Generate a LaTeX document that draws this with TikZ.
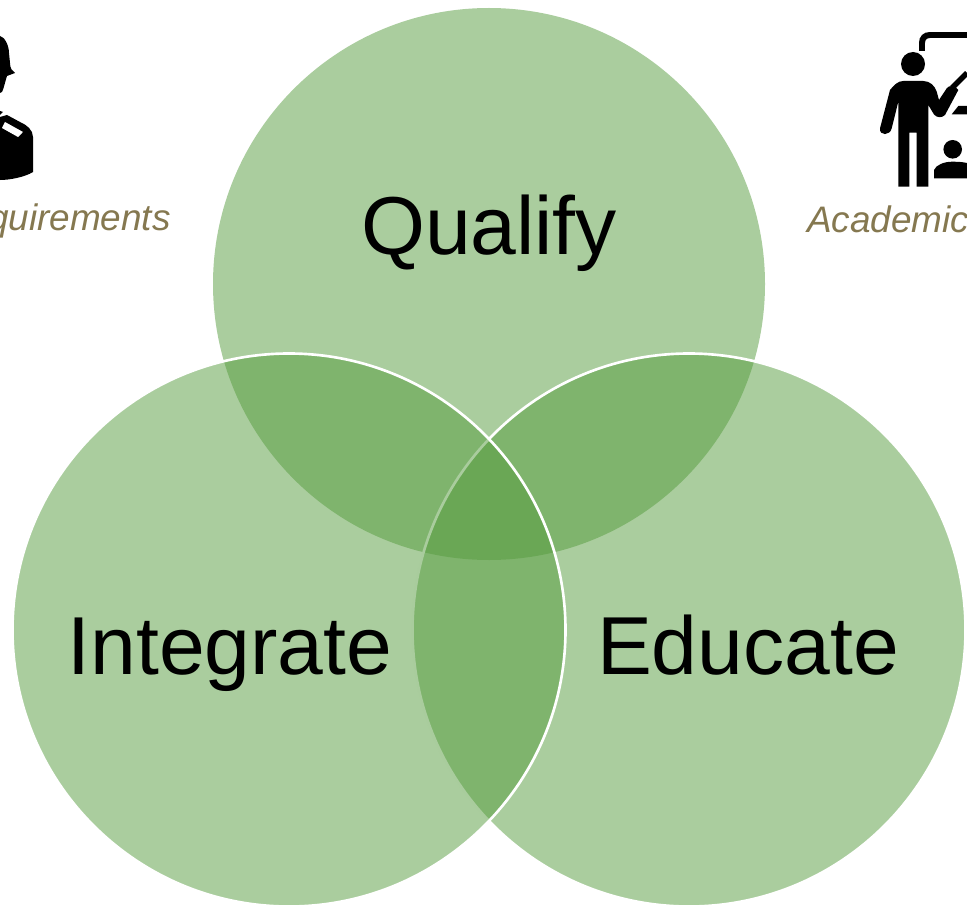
\documentclass[tikz,border=0pt]{standalone}
\usepackage{fontspec}
\setmainfont{Liberation Sans}
\usepackage{tikz}
\definecolor{vennleaf}{RGB}{85,155,61}
\definecolor{notetan}{RGB}{133,120,80}
\tikzstyle{venn} = [fill=vennleaf, fill opacity=0.5]
\tikzstyle{vennline} = [venn, draw=white, line width=1.5pt]
\tikzstyle{big} = [anchor=base, text=black, font=\fontsize{46.8}{50}\selectfont]
\tikzstyle{note} = [inner sep=0pt, text=notetan, font=\fontsize{21}{24}\selectfont\itshape]

\begin{document}
\begin{tikzpicture}[x=0.02cm,y=-0.02cm]
\useasboundingbox (0,0) rectangle (967,909);
\clip (0,0) rectangle (967,909);
% circles, back to front
\fill[venn] (489,284) circle [radius=276];
\draw[vennline] (689,630) circle [radius=276.5];
\draw[vennline] (289,630) circle [radius=276.5];
\node[big] (qualify) at (489,254) {Qualify};
\node[big] (integrate) at (230,674) {Integrate};
\node[big] (educate) at (748,674) {Educate};
% left icon
\fill (0,36) .. controls (5,37) and (9,46) .. (9,53) -- (10,63) .. controls (10,68) and (12,71) .. (15,73) -- (7,76) .. controls (5,82) and (4,88) .. (2,92) -- (0,93) -- cycle;
\fill (0,111) -- (3,112) -- (0,115) -- cycle;
\fill (0,117) -- (7,115) -- (20,122) .. controls (27,125) and (33,130) .. (33,137) -- (33,172) .. controls (25,177) and (10,180) .. (0,180) -- cycle;
\fill[white] (5,122) -- (23,132) -- (18,137) -- (2,128) -- cycle;
\node[note, anchor=base east] (reqnote) at (171,230) {Requirements};
% right icon
\draw[line width=3.4pt] (922,51) -- (922,43) .. controls (922,38) and (925,35) .. (930,35) -- (967,35);
\fill (913,64) circle [radius=12];
\fill (890,90) .. controls (894,85) and (898,81) .. (903.3,81) -- (923.3,81) .. controls (930,81) and (935,86) .. (936.7,91.7) -- (939,100) -- (946.7,88.3) .. controls (949,85) and (955,85) .. (958.3,90) -- (945,115) .. controls (942,118) and (937,118) .. (934,114.5) -- (928.3,105) -- (928.3,186.7) -- (916.7,186.7) -- (916.7,132.7) -- (909.3,132.7) -- (909.3,186.7) -- (898.3,186.7) -- (898.3,101.7) -- (891.7,128.3) .. controls (890,136) and (879,136) .. (880,128.3) -- cycle;
\draw[line width=3.2pt] (952,88) -- (967,73);
\fill (951.7,114.3) -- (958.3,106) -- (967,106) -- (967,114.3) -- cycle;
\fill (952.7,149.3) circle [radius=9.3];
\fill (934,178.3) -- (934,170) .. controls (936,165) and (944,161.7) .. (952,161.7) .. controls (958,161.7) and (963,162) .. (967,163) -- (967,178.3) -- cycle;
\node[note, anchor=base west] (acadnote) at (807,232) {Academic};
\end{tikzpicture}
\end{document}
